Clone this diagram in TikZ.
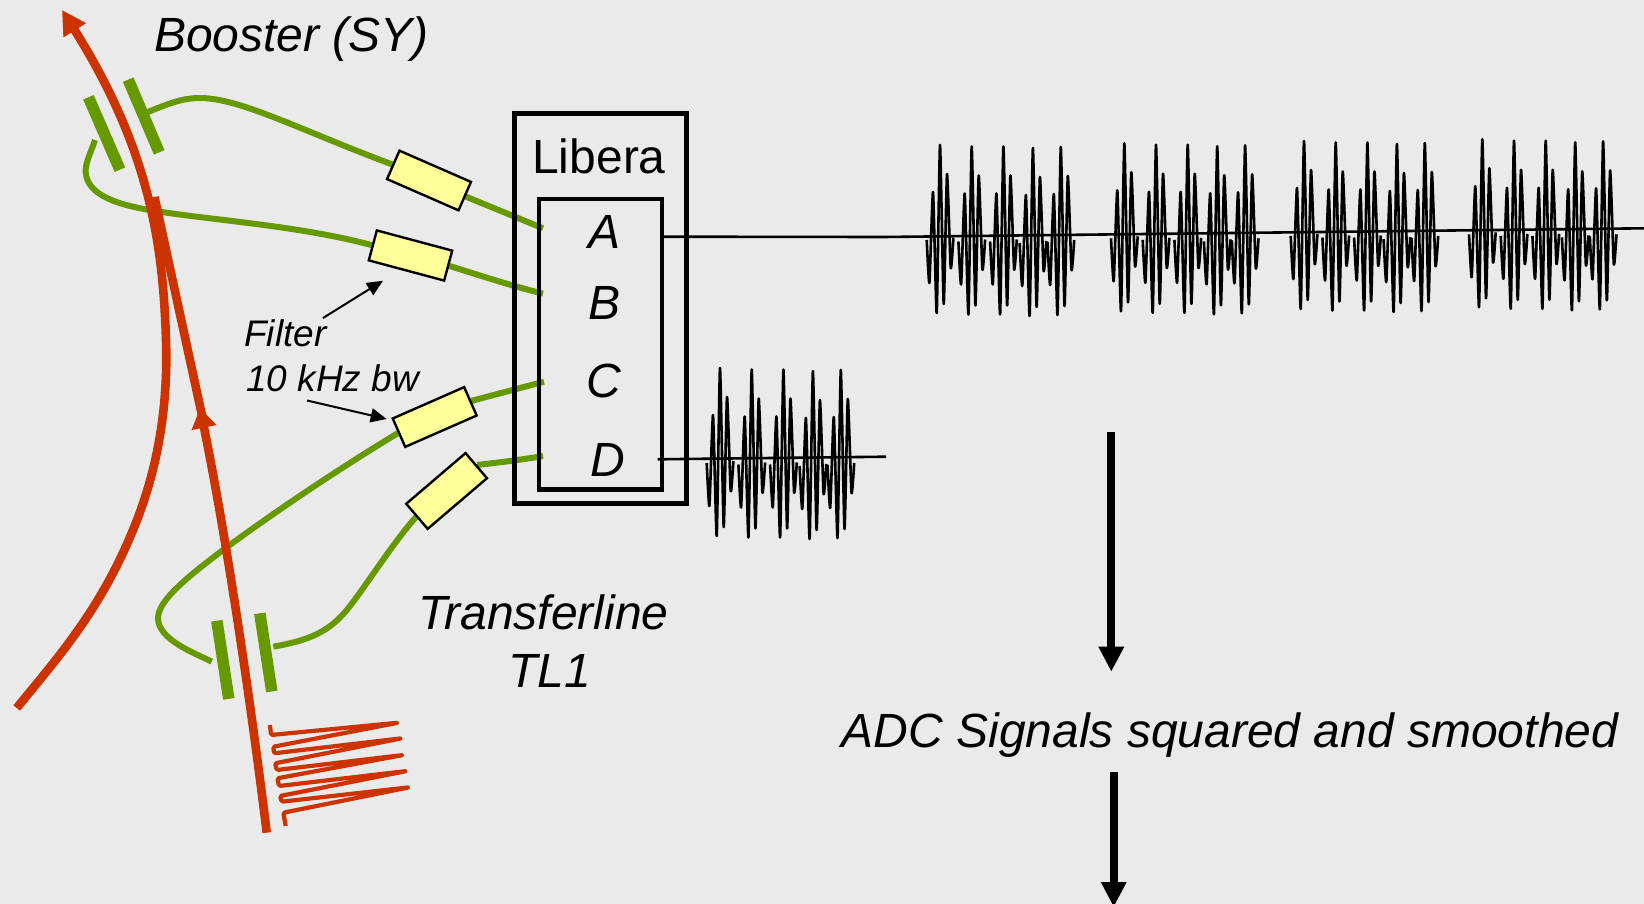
\documentclass[tikz,border=0pt]{standalone}
\usepackage{fontspec}
\setmainfont{Liberation Sans}
\usetikzlibrary{arrows.meta,backgrounds}
\definecolor{bgc}{HTML}{EAEAEA}
\definecolor{beam}{HTML}{CC3300}
\definecolor{cablec}{HTML}{669900}
\definecolor{filterc}{HTML}{FFFF99}
\tikzset{
  cable/.style={draw=cablec,line width=6pt},
  plate/.style={fill=cablec,draw=none,inner sep=0pt,minimum width=79pt,minimum height=11.5pt},
  filterbox/.style={fill=filterc,draw=black,line width=2.4pt,inner sep=0pt,minimum width=78pt,minimum height=31pt},
  beamline/.style={draw=beam,line width=8.6pt},
  comb/.style={draw=beam,line width=4.2pt,line join=round,rounded corners=1.5pt},
  wavy/.style={draw=black,line width=2.6pt,line join=round},
  sig/.style={draw=black,line width=2.6pt},
  thinarrow/.style={draw=black,line width=2pt,-{Triangle[length=16pt,width=14pt]}},
  bigarrow/.style={draw=black,line width=8pt,-{Triangle[length=25pt,width=24pt]}},
  big/.style={font=\fontsize{48}{50}\selectfont,inner sep=0pt},
  bigit/.style={font=\fontsize{48}{50}\selectfont\itshape,inner sep=0pt},
  smallit/.style={font=\fontsize{37}{40}\selectfont\itshape,inner sep=0pt},
}
\newcommand{\subwave}[2]{\draw[wavy,shift={(#1,#2)}] plot[smooth,tension=.3] coordinates {(0,5)(2.7,48)(6.3,-43)(10,78)(13.3,-90)(17,69)(20.3,-61)(24,33)(26.7,3)};}
\newcommand{\wburst}[2]{%
  \pgfmathsetmacro{\xa}{#1+31.7}\pgfmathsetmacro{\xb}{#1+63.4}\pgfmathsetmacro{\xc}{#1+92.9}\pgfmathsetmacro{\xd}{#1+120.8}%
  \pgfmathsetmacro{\ya}{#2+1.5}\pgfmathsetmacro{\yb}{#2+3}\pgfmathsetmacro{\yc}{#2+2}%
  \subwave{#1}{#2}\subwave{\xa}{\ya}\subwave{\xb}{\ya}\subwave{\xc}{\yb}\subwave{\xd}{\yc}}
\begin{document}
\begin{tikzpicture}[x=1pt,y=-1pt]
\useasboundingbox (0,0) rectangle (1644,904);
% boxes
\node[draw=black,line width=5.2pt,minimum width=172pt,minimum height=390pt,inner sep=0pt] (libera) at (600.35,308.65) {};
\node[draw=black,line width=4.4pt,minimum width=123pt,minimum height=290pt,inner sep=0pt] (inner) at (600.5,344.3) {};
\node[big,anchor=base] (liberatxt) at (599,174) {Libera};
\node[bigit,anchor=base] (portA) at (605,249) {A};
\node[bigit,anchor=base] (portB) at (605,319) {B};
\node[bigit,anchor=base] (portC) at (604,397.7) {C};
\node[bigit,anchor=base] (portD) at (607.5,476.7) {D};
% filters
\node[filterbox,rotate=-23.6] (fA) at (429,180.5) {};
\node[filterbox,rotate=-15] (fB) at (410.5,255.5) {};
\node[filterbox,rotate=23.7] (fC) at (434.7,417) {};
\node[filterbox,rotate=40.5,minimum height=33pt] (fD) at (446.6,491) {};
% plates
\node[plate,rotate=-66.9] (pa1) at (143.7,116) {};
\node[plate,rotate=-66.5] (pa2) at (104.2,133.5) {};
\node[plate,rotate=-81.3] (pb1) at (222.8,659.8) {};
\node[plate,rotate=-81.3] (pb2) at (265.8,652.4) {};
% connector ends
\coordinate (cA0) at (148,112);
\coordinate (cB0) at (95,140);
\coordinate (cC0) at (211.7,661.7);
\coordinate (cD0) at (273.3,646.7);
\coordinate (cA1) at (543,228.3);
\coordinate (cB1) at (543,293.6);
\coordinate (cC1) at (544,381.7);
\coordinate (cD1) at (543,456);
\begin{scope}[on background layer]
\fill[bgc] (0,0) rectangle (1644,904);
\draw[cable] (cA0) .. controls (170,103) and (183,98) .. (200,98) .. controls (240,98) and (300,130) .. (fA.west);
\draw[cable] (fA.east) -- (cA1);
\draw[cable] (cB0) .. controls (90,155) and (84,165) .. (86,175) .. controls (90,198) and (125,206) .. (155,211) .. controls (220,221) and (300,226) .. (fB.west);
\draw[cable] (fB.east) .. controls (480,275.5) and (512,286) .. (cB1);
\draw[cable] (cC0) .. controls (195,653) and (158,640) .. (158,618) .. controls (158,600) and (190,575) .. (223,550) .. controls (280,508) and (345,465) .. (fC.west);
\draw[cable] (fC.east) -- (cC1);
\draw[cable] (cD0) .. controls (310,640) and (330,632) .. (350,606) .. controls (370,580) and (395,540) .. (fD.west);
\draw[cable] (fD.east) .. controls (495,463) and (520,460) .. (cD1);
\end{scope}
% beams
\coordinate (bo0) at (16.7,708);
\coordinate (bo1) at (133,530);
\coordinate (bo2) at (166,340);
\coordinate (bo3) at (62,10);
\draw[beamline,-{Triangle[length=24pt,width=25pt]}] (bo0) .. controls (60,655) and (100,610) .. (bo1) .. controls (160,465) and (168,400) .. (bo2) .. controls (163,245) and (150,150) .. (bo3);
\coordinate (inj0) at (266.7,832.7);
\coordinate (inj1) at (200,408);
\coordinate (inj1b) at (203,420);
\coordinate (inj2) at (154.5,197);
\draw[beamline,-{Triangle[length=20pt,width=24pt]}] (inj0) .. controls (250,695) and (225,530) .. (inj1);
\draw[beamline] (inj1b) -- (inj2);
% comb
\draw[comb] (270,725) -- (271,735) -- (398.3,722.7) -- (273.3,746.7) -- (274,753.3) -- (401.7,738.3) -- (275,763.3) -- (276.7,770) -- (403.3,755) -- (277.3,778.3) -- (279,786) -- (406.7,771) -- (280,796) -- (281.7,801.7) -- (409.3,787.3) -- (283.3,812.7) -- (285.7,826);
% signals
\coordinate (sA0) at (664,236.7);
\coordinate (sA1) at (884,237);
\coordinate (sA2) at (1644,228.3);
\draw[sig] (sA0) -- (sA1) -- (sA2);
\coordinate (sD0) at (657.7,459.3);
\coordinate (sD1) at (886,456.7);
\draw[sig] (sD0) -- (sD1);
\wburst{926.7}{235}
\wburst{1111}{233.3}
\wburst{1290.7}{231}
\wburst{1469}{229.3}
\wburst{706.7}{458}
% labels
\node[bigit,anchor=base] (booster) at (291.5,51.7) {Booster (SY)};
\node[smallit,anchor=base west] (filt1) at (244,346) {Filter};
\node[smallit,anchor=base west] (filt2) at (246,391) {10 kHz bw};
\node[bigit,anchor=base] (tl1) at (543.5,629) {Transferline};
\node[bigit,anchor=base] (tl2) at (550,687) {TL1};
\node[bigit,anchor=base] (adc) at (1230,747.6) {ADC Signals squared and smoothed};
% arrows
\coordinate (a1s) at (323,318);
\coordinate (a1e) at (383,280.7);
\coordinate (a2s) at (307,400.5);
\coordinate (a2e) at (386.7,419);
\draw[thinarrow] (a1s) -- (a1e);
\draw[thinarrow] (a2s) -- (a2e);
\coordinate (b1s) at (1111.3,432);
\coordinate (b1e) at (1111.3,671.7);
\coordinate (b2s) at (1113.7,772);
\coordinate (b2e) at (1113.7,907);
\draw[bigarrow] (b1s) -- (b1e);
\draw[bigarrow] (b2s) -- (b2e);
\end{tikzpicture}
\end{document}
